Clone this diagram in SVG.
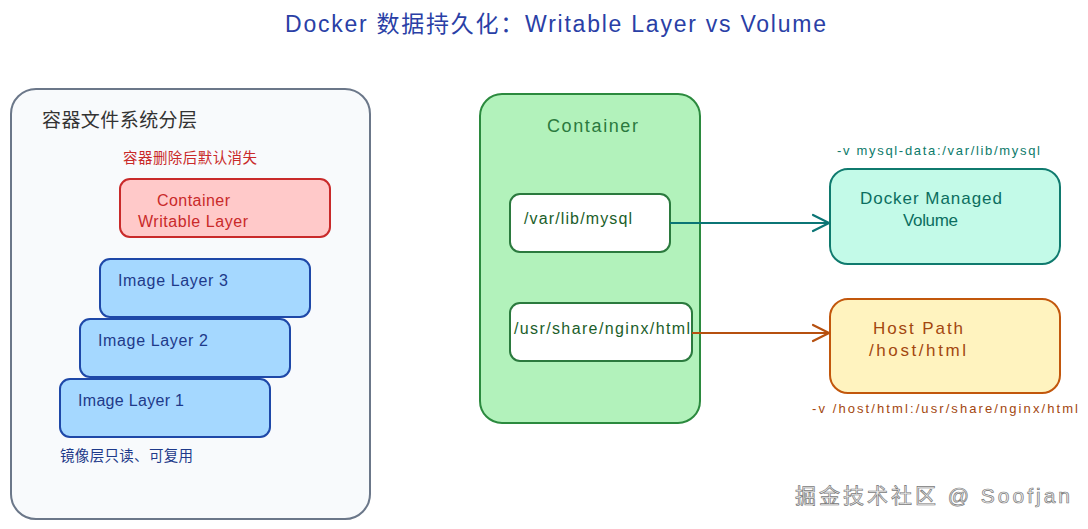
<svg xmlns="http://www.w3.org/2000/svg" width="1088" height="529" viewBox="0 0 1088 529">
<defs>
<style>
text{font-family:"Liberation Sans","Noto Sans CJK SC",sans-serif}
.box{stroke-width:2}
.lbl{font-size:16px}
</style>
<marker id="aT" viewBox="0 0 20 20" refX="18" refY="10" markerWidth="20" markerHeight="20" markerUnits="userSpaceOnUse" orient="auto">
<path d="M2,2 L18,10 L2,18" fill="none" stroke="#0b7575" stroke-width="2.2" stroke-linecap="round" stroke-linejoin="round"/>
</marker>
<marker id="aO" viewBox="0 0 20 20" refX="18" refY="10" markerWidth="20" markerHeight="20" markerUnits="userSpaceOnUse" orient="auto">
<path d="M2,2 L18,10 L2,18" fill="none" stroke="#b6500f" stroke-width="2.2" stroke-linecap="round" stroke-linejoin="round"/>
</marker>
</defs>
<rect width="1088" height="529" fill="#ffffff"/>
<text x="285" y="32" font-size="23" fill="#2a3fa6" textLength="541">Docker 数据持久化：Writable Layer vs Volume</text>

<g id="fs-panel">
<rect x="11" y="89" width="359" height="430" rx="25" fill="#f8fafc" stroke="#6b7789" class="box"/>
<text x="42" y="127" font-size="19" fill="#333333" textLength="155">容器文件系统分层</text>
</g>
<g id="writable-note"><text x="123" y="163" font-size="14.5" fill="#c92a2a" textLength="134">容器删除后默认消失</text></g>
<g id="writable-layer">
<rect x="120" y="179" width="210" height="58" rx="10" fill="#ffc9c9" stroke="#c92a2a" class="box"/>
<text x="157" y="206" class="lbl" fill="#c92a2a" textLength="73">Container</text>
<text x="138" y="227" class="lbl" fill="#c92a2a" textLength="110">Writable Layer</text>
</g>
<g id="image-layer-3">
<rect x="100" y="259" width="210" height="58" rx="10" fill="#a5d8ff" stroke="#1e48a8" class="box"/>
<text x="118" y="286" class="lbl" fill="#1e3a8a" textLength="110">Image Layer 3</text>
</g>
<g id="image-layer-2">
<rect x="80" y="319" width="210" height="58" rx="10" fill="#a5d8ff" stroke="#1e48a8" class="box"/>
<text x="98" y="346" class="lbl" fill="#1e3a8a" textLength="110">Image Layer 2</text>
</g>
<g id="image-layer-1">
<rect x="60" y="379" width="210" height="58" rx="10" fill="#a5d8ff" stroke="#1e48a8" class="box"/>
<text x="78" y="406" class="lbl" fill="#1e3a8a" textLength="106">Image Layer 1</text>
</g>
<g id="image-note"><text x="60" y="461" font-size="14.5" fill="#1e3a8a" textLength="133">镜像层只读、可复用</text></g>

<g id="container">
<rect x="480" y="94" width="220" height="329" rx="22" fill="#b2f2bb" stroke="#2b8a3e" class="box"/>
<text x="547" y="132" font-size="18" fill="#2b7a3e" textLength="91">Container</text>
</g>
<g id="mysql-path">
<rect x="510" y="194" width="160" height="58" rx="10" fill="#ffffff" stroke="#2b7a3e" class="box"/>
<text x="524" y="224" class="lbl" fill="#1b5e2a" textLength="108">/var/lib/mysql</text>
</g>
<g id="nginx-path">
<rect x="510" y="303" width="182" height="58" rx="10" fill="#ffffff" stroke="#2b7a3e" class="box"/>
<text x="514" y="334" class="lbl" fill="#1b5e2a" textLength="176">/usr/share/nginx/html</text>
</g>

<g id="volume">
<rect x="830" y="169" width="230" height="95" rx="18" fill="#c3fae8" stroke="#0f7a6e" class="box"/>
<text x="860" y="204" font-size="17" fill="#0b6e5f" textLength="142">Docker Managed</text>
<text x="903" y="226" font-size="17" fill="#0b6e5f" textLength="55">Volume</text>
</g>
<g id="volume-label"><text x="837" y="155" font-size="13" fill="#0b7a6a" textLength="203">-v mysql-data:/var/lib/mysql</text></g>
<g id="host-path">
<rect x="830" y="299" width="230" height="94" rx="18" fill="#fff3bf" stroke="#c2570c" class="box"/>
<text x="873" y="334" font-size="17" fill="#a3470f" textLength="90">Host Path</text>
<text x="869" y="356" font-size="17" fill="#a3470f" textLength="97">/host/html</text>
</g>
<g id="host-label"><text x="812" y="413" font-size="13" fill="#a3470f" textLength="266">-v /host/html:/usr/share/nginx/html</text></g>

<g id="connectors" fill="none" stroke-width="2">
<path d="M670,223 L829,223" stroke="#0b7575" marker-end="url(#aT)"/>
<path d="M692,333 L829,333" stroke="#b6500f" marker-end="url(#aO)"/>
</g>

<text x="795" y="503" font-size="21" fill="#eeeeee" stroke="#7a7a7a" stroke-width="0.7" textLength="275">掘金技术社区 @ Soofjan</text>
</svg>
